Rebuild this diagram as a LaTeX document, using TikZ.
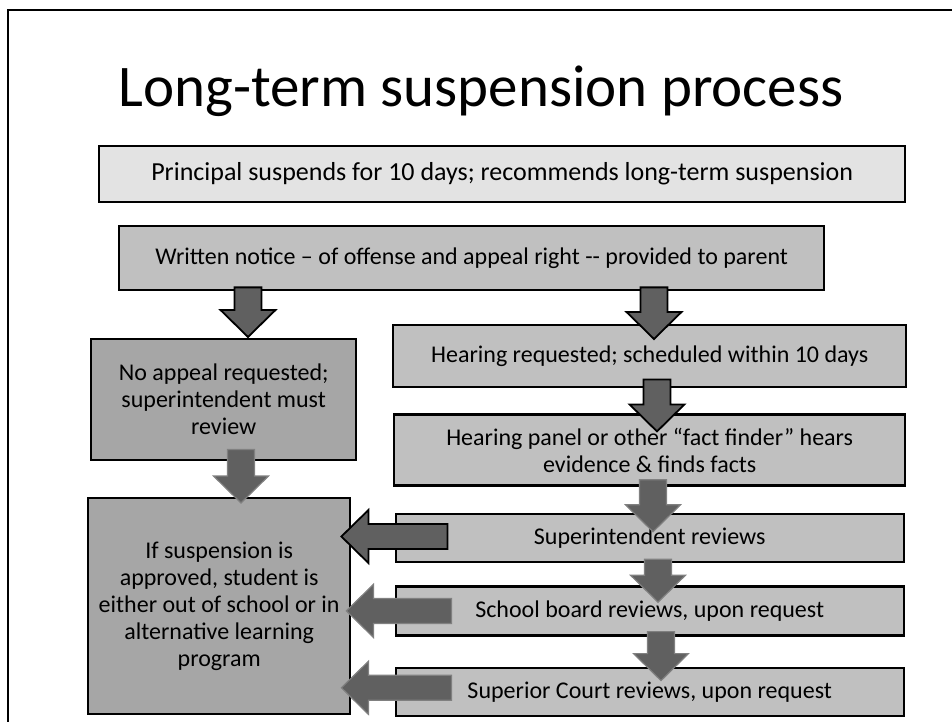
\documentclass[tikz,border=0pt]{standalone}
\usepackage{fontspec}
\setmainfont{Carlito}
\usetikzlibrary{positioning,calc}

\definecolor{boxlight}{HTML}{E3E3E3}
\definecolor{boxmid}{HTML}{C0C0C0}
\definecolor{boxdark}{HTML}{A6A6A6}
\definecolor{arrfill}{HTML}{606060}
\definecolor{arredge}{HTML}{808080}

% block arrows: #2 = start of the shaft, #3 = tip
\newcommand{\downblk}[3][]{%
  \draw[blk,#1] let \p1=#2, \p2=#3 in
    (\x1-13.5pt,\y1) -- (\x1-13.5pt,\y2+27pt) -- (\x1-27.5pt,\y2+27pt) -- (\x1,\y2)
    -- (\x1+27.5pt,\y2+27pt) -- (\x1+13.5pt,\y2+27pt) -- (\x1+13.5pt,\y1) -- cycle;}
\newcommand{\leftblk}[3][]{%
  \draw[blk,#1] let \p1=#2, \p2=#3 in
    (\x1,\y1+12.5pt) -- (\x2+27pt,\y1+12.5pt) -- (\x2+27pt,\y1+26.5pt) -- (\x2,\y1)
    -- (\x2+27pt,\y1-26.5pt) -- (\x2+27pt,\y1-12.5pt) -- (\x1,\y1-12.5pt) -- cycle;}

\begin{document}
\begin{tikzpicture}[
  x=1pt, y=1pt,
  box/.style={draw, line width=2.4pt, fill=boxmid, align=center, inner sep=0pt,
    font=\fontsize{24}{27}\selectfont},
  lbox/.style={box, fill=boxlight, font=\fontsize{26}{29}\selectfont},
  dbox/.style={box, fill=boxdark},
  blk/.style={fill=arrfill, draw=black, line width=1.8pt, line join=miter},
  blkg/.style={draw=arredge, line width=1.2pt}
]
  \useasboundingbox (0,0) rectangle (952,721);
  \draw[line width=2pt] (8,-20) -- (8,711) -- (980,711);

  \node[font=\fontsize{59}{70}\selectfont, anchor=base] (title) at (481,614) {Long-term suspension process};

  \node[lbox, minimum width=806pt, minimum height=56pt, anchor=north west] (principal) at (98,576)
    {Principal suspends for 10 days; recommends long-term suspension};
  \node[box, minimum width=705pt, minimum height=64pt, anchor=north west] (notice) at (118,496)
    {Written notice – of offense and appeal right -{}- provided to parent};
  \node[dbox, minimum width=265pt, minimum height=121pt, anchor=north west] (noappeal) at (90,383)
    {No appeal requested;\\ superintendent must\\ review};
  \node[dbox, minimum width=262pt, minimum height=216pt, anchor=north west] (result) at (87,224)
    {If suspension is\\ approved, student is\\ either out of school or in\\ alternative learning\\ program};

  \node[box, minimum width=513pt, minimum height=62pt, anchor=north west] (hearreq) at (392,397)
    {Hearing requested; scheduled within 10 days};
  \node[box, minimum width=511pt, minimum height=71pt, below=25pt of hearreq] (panel)
    {Hearing panel or other “fact finder” hears\\ evidence \& finds facts};
  \node[box, minimum width=508pt, minimum height=48pt, below=26pt of panel] (supt) {Superintendent reviews};
  \node[box, minimum width=508pt, minimum height=49pt, below=22pt of supt] (board) {School board reviews, upon request};
  \node[box, minimum width=508pt, minimum height=48pt, below=30pt of board] (court) {Superior Court reviews, upon request};

  \coordinate (colL) at (245,0);
  \coordinate (colR) at (656,0);

  \downblk{($(notice.south -| colL)+(3,4)$)}{($(noappeal.north -| colL)+(3,1)$)}
  \downblk{($(notice.south -| colR)+(-2,4)$)}{($(hearreq.north -| colR)+(-2,-15)$)}
  \downblk{($(hearreq.south -| colR)+(1,9)$)}{($(panel.north -| colR)+(1,-18)$)}
  \downblk[blkg]{($(panel.south -| colR)+(-3,7)$)}{($(supt.north -| colR)+(-3,-19)$)}
  \downblk[blkg]{($(supt.south -| colR)+(2,4)$)}{($(board.north -| colR)+(2,-17)$)}
  \downblk[blkg]{($(board.south -| colR)+(5,5)$)}{($(court.north -| colR)+(5,-14)$)}
  \downblk[blkg]{($(noappeal.south -| colL)+(-4,12)$)}{($(result.north -| colL)+(-4,-6)$)}

  \leftblk{($(supt.west)+(53,1.5)$)}{($(result.east |- supt.west)+(-10,0)$)}
  \leftblk[blkg]{($(board.west)+(57,0)$)}{($(result.east |- board.west)+(-5,0)$)}
  \leftblk[blkg]{($(court.west)+(57,4)$)}{($(result.east |- court.west)+(-10,0)$)}
\end{tikzpicture}
\end{document}
